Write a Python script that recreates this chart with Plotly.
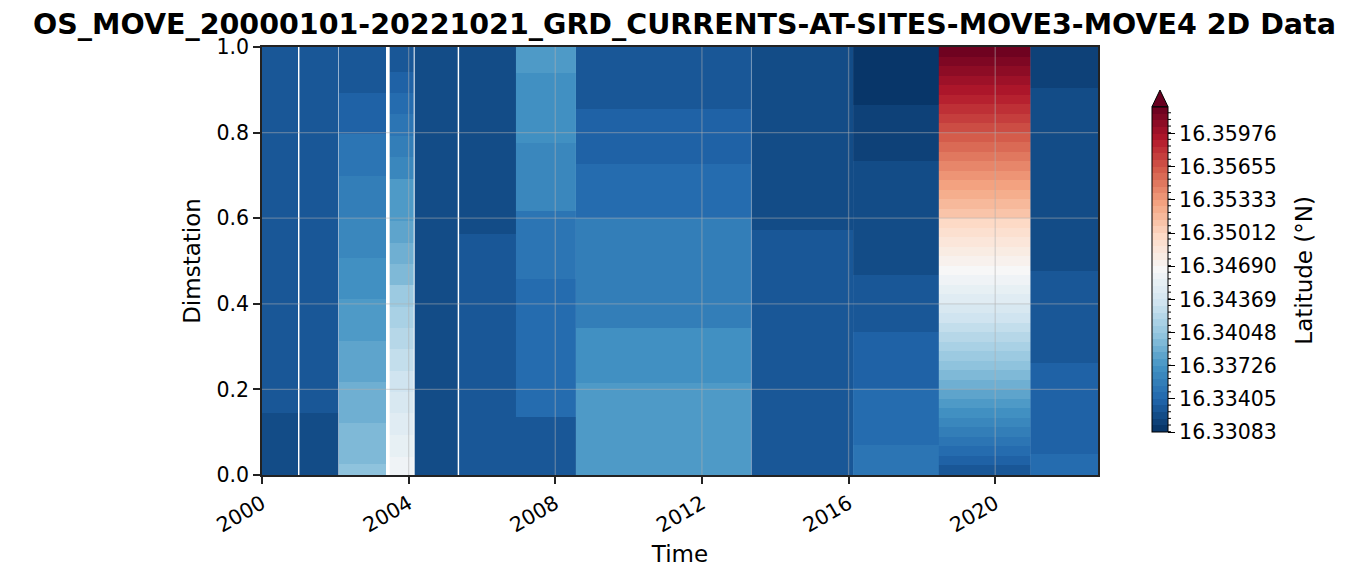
import numpy as np
import plotly.graph_objects as go
from plotly.colors import sample_colorscale

# MOVE3/MOVE4 latitude (degrees N), one block per deployment
deploy_start = ["2000-01-01", "2001-01-08", "2002-02-06", "2003-06-26", "2004-03-01",
                "2005-05-18", "2006-12-05", "2008-07-25", "2013-05-08", "2016-02-15",
                "2018-06-18", "2020-12-17"]
deploy_end = ["2000-12-28", "2002-01-27", "2003-05-20", "2004-02-22", "2005-05-08",
              "2006-12-05", "2008-07-25", "2013-05-08", "2016-02-15", "2018-06-18",
              "2020-12-17", "2022-10-21"]

# dimstation edges of the rows in each block (bottom to top)
row_edges = [
    [0, 0.145, 1],
    [0, 0.145, 1],
    [0, 0.026, 0.121, 0.217, 0.313, 0.411, 0.506, 0.601, 0.699, 0.797, 0.892, 0.989, 1],
    [0, 0.043, 0.093, 0.144, 0.193, 0.243, 0.294, 0.344, 0.393, 0.443, 0.493,
     0.543, 0.593, 0.643, 0.692, 0.743, 0.793, 0.843, 0.893, 0.942, 1],
    [0, 1],
    [0, 0.563, 1],
    [0, 0.136, 0.297, 0.458, 0.617, 0.776, 0.939, 1],
    [0, 0.087, 0.216, 0.344, 0.473, 0.600, 0.727, 0.855, 0.984, 1],
    [0, 0.572, 1],
    [0, 0.070, 0.203, 0.333, 0.467, 0.734, 0.864, 1],
    list(np.linspace(0, 1, 46)),
    [0, 0.049, 0.262, 0.477, 0.689, 0.905, 1],
]

lat_values = [
    [16.33263, 16.33335],
    [16.33263, 16.33335],
    [16.33997, 16.33934, 16.33855, 16.33792, 16.33729, 16.33682, 16.33619,
     16.33540, 16.33477, 16.33398, 16.33335, 16.33288],
    [16.34592, 16.34532, 16.34475, 16.34409, 16.34343, 16.34283, 16.34192,
     16.34123, 16.34060, 16.33974, 16.33902, 16.33836, 16.33773, 16.33732,
     16.33656, 16.33581, 16.33530, 16.33448, 16.33398, 16.33329],
    [16.33263],
    [16.33329, 16.33263],
    [16.33329, 16.33414, 16.33461, 16.33524, 16.33612, 16.33666, 16.33745],
    [16.33782, 16.33732, 16.33682, 16.33587, 16.33533, 16.33448, 16.33398,
     16.33329, 16.33297],
    [16.33329, 16.33263],
    [16.33524, 16.33461, 16.33398, 16.33319, 16.33241, 16.33193, 16.33110],
    [16.33319, 16.33384, 16.33449, 16.33514, 16.33579, 16.33644, 16.33709,
     16.33774, 16.33840, 16.33905, 16.33970, 16.34035, 16.34100, 16.34165,
     16.34230, 16.34295, 16.34360, 16.34425, 16.34490, 16.34556, 16.34621,
     16.34686, 16.34751, 16.34816, 16.34881, 16.34946, 16.35011, 16.35076,
     16.35141, 16.35206, 16.35272, 16.35337, 16.35402, 16.35467, 16.35532,
     16.35597, 16.35662, 16.35727, 16.35792, 16.35857, 16.35922, 16.35988,
     16.36053, 16.36118, 16.36183],
    [16.33461, 16.33398, 16.33329, 16.33263, 16.33225, 16.33178],
]

cbar_ticks = [16.33083, 16.33405, 16.33726, 16.34048, 16.34369,
              16.34690, 16.35012, 16.35333, 16.35655, 16.35976]
vmin, vmax = 16.33083, 16.36233
grid_years = ["2000-01-01", "2004-01-01", "2008-01-01", "2012-01-01",
              "2016-01-01", "2020-01-01"]
grid_dims = [0.2, 0.4, 0.6, 0.8]

# matplotlib RdBu_r, cut into discrete levels like the colorbar
rdbu_r = ["#053061", "#2166ac", "#4393c3", "#92c5de", "#d1e5f0", "#f7f7f7",
          "#fddbc7", "#f4a582", "#d6604d", "#b2182b", "#67001f"]
n_levels = 49
base = [[i / 10, c] for i, c in enumerate(rdbu_r)]
stepped = []
for k in range(n_levels):
    c = sample_colorscale(base, [(k + 0.5) / n_levels])[0]
    stepped.append([k / n_levels, c])
    stepped.append([(k + 1) / n_levels, c])

fig = go.Figure()
for x0, x1, edges, vals in zip(deploy_start, deploy_end, row_edges, lat_values):
    fig.add_trace(go.Heatmap(
        x=[x0, x1], y=edges, z=[[v] for v in vals],
        coloraxis="coloraxis", hoverongaps=False,
        hovertemplate="%{x}<br>%{y}<br>%{z:.5f}<extra></extra>"))

# grid drawn over the mesh, like ax.grid(alpha=...)
grid_col = "rgba(176,176,176,0.45)"
for g in grid_years[1:]:
    fig.add_shape(type="line", xref="x", yref="paper", x0=g, x1=g, y0=0, y1=1,
                  line=dict(color=grid_col, width=1.3), layer="above")
for g in grid_dims:
    fig.add_shape(type="line", xref="paper", yref="y", x0=0, x1=1, y0=g, y1=g,
                  line=dict(color=grid_col, width=1.3), layer="above")

# colorbar geometry in paper units (bar bottom / height), used for extras
cb_x0, cb_x1 = 1.0646, 1.0837
cb_y0, cb_h = 0.1012, 0.7593

# extend='max' triangle on top of the colorbar
fig.add_shape(type="path", xref="paper", yref="paper",
              path=f"M {cb_x0} {cb_y0 + cb_h} L {(cb_x0 + cb_x1) / 2} 0.8995 "
                   f"L {cb_x1} {cb_y0 + cb_h} Z",
              fillcolor="#67001f", line=dict(color="black", width=1))

# minor ticks on the colorbar (one per colour level)
minor_step = (cbar_ticks[1] - cbar_ticks[0]) / 5
v = vmin
while v < vmax:
    yp = cb_y0 + (v - vmin) / (vmax - vmin) * cb_h
    fig.add_shape(type="line", xref="paper", yref="paper",
                  x0=cb_x1, x1=cb_x1 + 0.0036, y0=yp, y1=yp,
                  line=dict(color="black", width=1))
    v += minor_step

# colorbar label
fig.add_annotation(text="Latitude (°N)", xref="paper", yref="paper",
                   x=1.246, y=0.479, xanchor="center", yanchor="middle",
                   textangle=-90, showarrow=False, font=dict(size=23))

font = "DejaVu Sans, Liberation Sans, sans-serif"
fig.update_layout(
    width=1353, height=573,
    margin=dict(l=254, r=263, t=39, b=106),
    paper_bgcolor="white", plot_bgcolor="white",
    font=dict(family=font, color="black", size=20),
    title=dict(text="OS_MOVE_20000101-20221021_GRD_CURRENTS-AT-SITES-MOVE3-MOVE4 2D Data",
               x=0.5, xanchor="center", y=0.972, yanchor="middle",
               font=dict(size=28.5, weight="bold", family=font)),
    coloraxis=dict(
        colorscale=stepped, cmin=vmin, cmax=vmax,
        colorbar=dict(
            x=cb_x0, xanchor="left", xpad=0, ypad=0,
            y=0.480, yanchor="middle", len=325, lenmode="pixels",
            thickness=16, outlinewidth=1, outlinecolor="black",
            tickvals=cbar_ticks, ticktext=[f"{t:.5f}" for t in cbar_ticks],
            ticks="outside", ticklen=7, tickwidth=1.2, tickcolor="black",
            tickfont=dict(size=20.5),
        ),
    ),
    showlegend=False,
)
fig.update_xaxes(
    type="date", range=["2000-01-01", "2022-10-21"],
    tickvals=grid_years, tickformat="%Y", tickangle=-30,
    tickfont=dict(size=20.5),
    ticks="outside", ticklen=7, tickwidth=1.5, tickcolor="#222",
    showline=True, mirror=True, linecolor="#222", linewidth=1.5,
    showgrid=False, zeroline=False,
    title=dict(text="Time", font=dict(size=23), standoff=10),
)
fig.update_yaxes(
    range=[0, 1], tickvals=[0, 0.2, 0.4, 0.6, 0.8, 1.0], tickformat=".1f",
    tickfont=dict(size=20.5),
    ticks="outside", ticklen=7, tickwidth=1.5, tickcolor="#222",
    showline=True, mirror=True, linecolor="#222", linewidth=1.5,
    showgrid=False, zeroline=False,
    title=dict(text="Dimstation", font=dict(size=23), standoff=9),
)

fig.write_html("out.html")
